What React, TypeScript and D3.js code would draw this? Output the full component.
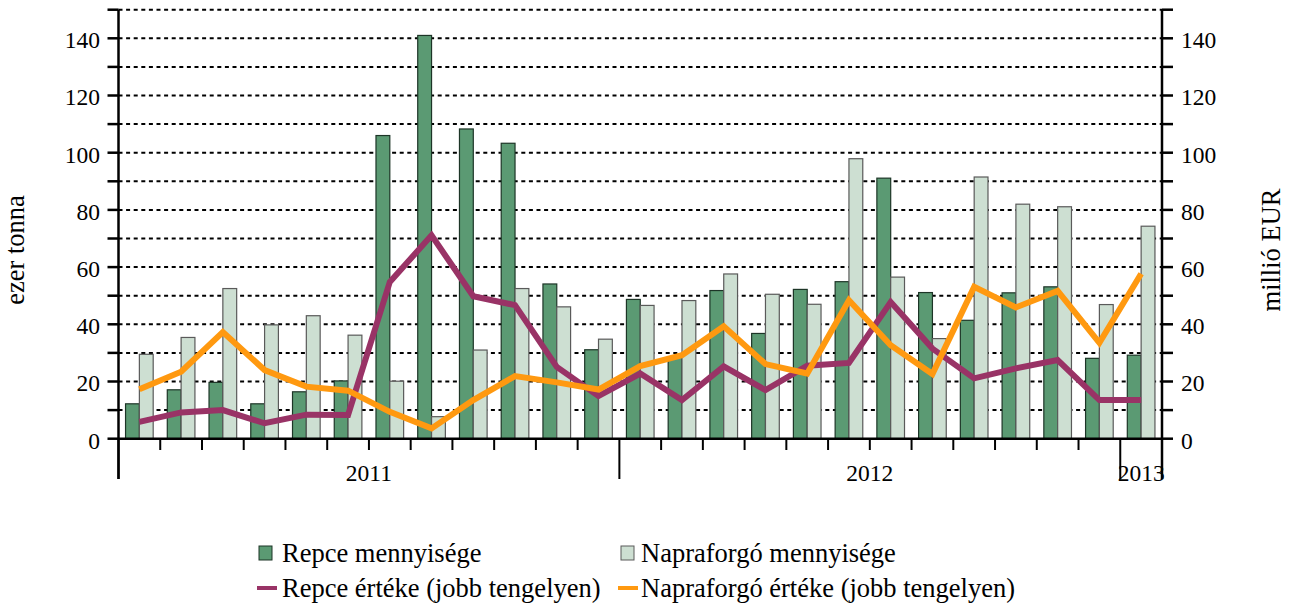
import * as d3 from "d3";

const months = [
  "2011-01", "2011-02", "2011-03", "2011-04", "2011-05", "2011-06",
  "2011-07", "2011-08", "2011-09", "2011-10", "2011-11", "2011-12",
  "2012-01", "2012-02", "2012-03", "2012-04", "2012-05", "2012-06",
  "2012-07", "2012-08", "2012-09", "2012-10", "2012-11", "2012-12",
  "2013-01",
];

// ezer tonna
const repceQty = [
  12.2, 17.1, 19.7, 12.2, 16.4, 20.2, 106, 141, 108.3, 103.3, 54.1, 31.1,
  48.7, 28.6, 51.8, 36.8, 52.2, 54.9, 91.1, 51.1, 41.4, 51, 53.1, 28.1, 29.2,
];
const napraQty = [
  29.5, 35.4, 52.5, 39.8, 43, 36.2, 20.1, 7.7, 31, 52.5, 46.1, 34.8,
  46.6, 48.3, 57.6, 50.5, 47, 97.9, 56.5, 35, 91.5, 82, 81.1, 46.9, 74.3,
];

// millió EUR
const repceValue = [
  5.9, 9.2, 10.0, 5.4, 8.4, 8.3, 54.8, 71.1, 49.8, 46.7, 25.1, 14.9,
  22.8, 13.5, 25.3, 17.0, 25.5, 26.5, 47.8, 31.5, 21.1, 24.6, 27.5, 13.5, 13.5,
];
const napraValue = [
  17.3, 23.4, 37.3, 24.0, 18.2, 16.8, 9.4, 3.6, 13.5, 21.9, 19.7, 17.2,
  25.4, 29.2, 39.3, 26.1, 22.8, 48.4, 32.7, 22.6, 53.1, 45.9, 51.7, 33.5, 57.7,
];

const yTicks = [0, 20, 40, 60, 80, 100, 120, 140];
const gridTicks = d3.range(10, 151, 10);
const minorTicks = d3.range(0, 151, 10);

const C = {
  repce: "#5b9a73",
  repceStroke: "#1d3527",
  napra: "#cddfd2",
  napraStroke: "#5a5a5a",
  repceLine: "#993366",
  napraLine: "#ff9910",
};

const FONT = "'Liberation Serif', 'Times New Roman', serif";

export default function App() {
  const width = 1290;
  const height = 604;
  const left = 118.5;
  const right = 1162;
  const top = 9.7;
  const bottom = 438.7;

  const x0 = d3.scaleBand<string>().domain(months).range([left, right]).padding(0);
  const x1 = d3
    .scaleBand<string>()
    .domain(["repce", "napra"])
    .range([0, x0.bandwidth()])
    .paddingInner(0)
    .paddingOuter(0.51);
  const yL = d3.scaleLinear().domain([0, 150]).range([bottom, top]);
  const yR = d3.scaleLinear().domain([0, 150]).range([bottom, top]);
  const cx = (m: string) => (x0(m) as number) + x0.bandwidth() / 2;

  const line = (vals: number[]) =>
    d3
      .line<number>()
      .x((_, i) => cx(months[i]))
      .y((d) => yR(d))(vals) as string;

  const years = Array.from(d3.group(months, (m) => m.slice(0, 4)), ([year, ms]) => ({
    year,
    start: x0(ms[0]) as number,
    end: (x0(ms[ms.length - 1]) as number) + x0.bandwidth(),
  }));
  const longTicks = new Set<number>();
  years.forEach((y) => {
    longTicks.add(y.start);
    longTicks.add(y.end);
  });
  const boundaries = months.map((m) => x0(m) as number).concat([right]);

  return (
    <svg
      width={width}
      height={height}
      style={{ position: "absolute", left: 0, top: 0, background: "#fff" }}
      fontFamily={FONT}
    >
      {/* grid */}
      {gridTicks.map((t) => (
        <line
          key={"g" + t}
          x1={left}
          x2={right}
          y1={yL(t)}
          y2={yL(t)}
          stroke="#000"
          strokeWidth={2}
          strokeDasharray="4,3.6"
        />
      ))}

      {/* bars */}
      {months.map((m, i) => (
        <g key={m} transform={`translate(${x0(m)},0)`}>
          <rect
            x={x1("repce")}
            y={yL(repceQty[i])}
            width={x1.bandwidth()}
            height={bottom - yL(repceQty[i])}
            fill={C.repce}
            stroke={C.repceStroke}
            strokeWidth={1.2}
          />
          <rect
            x={x1("napra")}
            y={yL(napraQty[i])}
            width={x1.bandwidth()}
            height={bottom - yL(napraQty[i])}
            fill={C.napra}
            stroke={C.napraStroke}
            strokeWidth={1.2}
          />
        </g>
      ))}

      {/* lines */}
      <path d={line(repceValue)} fill="none" stroke={C.repceLine} strokeWidth={6} strokeLinejoin="miter" />
      <path d={line(napraValue)} fill="none" stroke={C.napraLine} strokeWidth={6} strokeLinejoin="miter" />

      {/* x axis */}
      <line x1={left} x2={right} y1={bottom} y2={bottom} stroke="#000" strokeWidth={2.5} />
      {boundaries.map((b, i) => (
        <line
          key={"xt" + i}
          x1={b}
          x2={b}
          y1={bottom}
          y2={longTicks.has(b) ? 479 : 450}
          stroke="#000"
          strokeWidth={2}
        />
      ))}
      {years.map((y) => (
        <text key={y.year} x={(y.start + y.end) / 2} y={481} textAnchor="middle" fontSize={23.5}>
          {y.year}
        </text>
      ))}

      {/* left axis */}
      <line x1={left} x2={left} y1={top} y2={479} stroke="#000" strokeWidth={2.5} />
      {minorTicks.map((t) => (
        <line key={"lt" + t} x1={left - 11} x2={left} y1={yL(t)} y2={yL(t)} stroke="#000" strokeWidth={2.5} />
      ))}
      {yTicks.map((t) => (
        <text key={"ll" + t} x={100} y={yL(t)} dy="0.42em" textAnchor="end" fontSize={23.5}>
          {t}
        </text>
      ))}

      {/* right axis */}
      <line x1={right} x2={right} y1={top} y2={479} stroke="#000" strokeWidth={2.5} />
      {minorTicks.map((t) => (
        <line key={"rt" + t} x1={right} x2={right + 11} y1={yR(t)} y2={yR(t)} stroke="#000" strokeWidth={2.5} />
      ))}
      {yTicks.map((t) => (
        <text key={"rl" + t} x={1181} y={yR(t)} dy="0.42em" textAnchor="start" fontSize={23.5}>
          {t}
        </text>
      ))}

      {/* axis titles */}
      <text transform="translate(24,250) rotate(-90)" textAnchor="middle" fontSize={26.5}>
        ezer tonna
      </text>
      <text transform="translate(1280,250) rotate(-90)" textAnchor="middle" fontSize={26.5}>
        millió EUR
      </text>

      {/* legend */}
      <g fontSize={26.5}>
        <rect x={259} y={546} width={13} height={14} fill={C.repce} stroke={C.repceStroke} strokeWidth={1} />
        <text x={282} y={562}>Repce mennyisége</text>
        <rect x={621} y={546} width={13} height={14} fill={C.napra} stroke={C.napraStroke} strokeWidth={1} />
        <text x={641} y={562}>Napraforgó mennyisége</text>
        <line x1={257} x2={277} y1={588} y2={588} stroke={C.repceLine} strokeWidth={4} />
        <text x={282} y={597}>Repce értéke (jobb tengelyen)</text>
        <line x1={618} x2={638} y1={588} y2={588} stroke={C.napraLine} strokeWidth={4} />
        <text x={641} y={597}>Napraforgó értéke (jobb tengelyen)</text>
      </g>
    </svg>
  );
}
